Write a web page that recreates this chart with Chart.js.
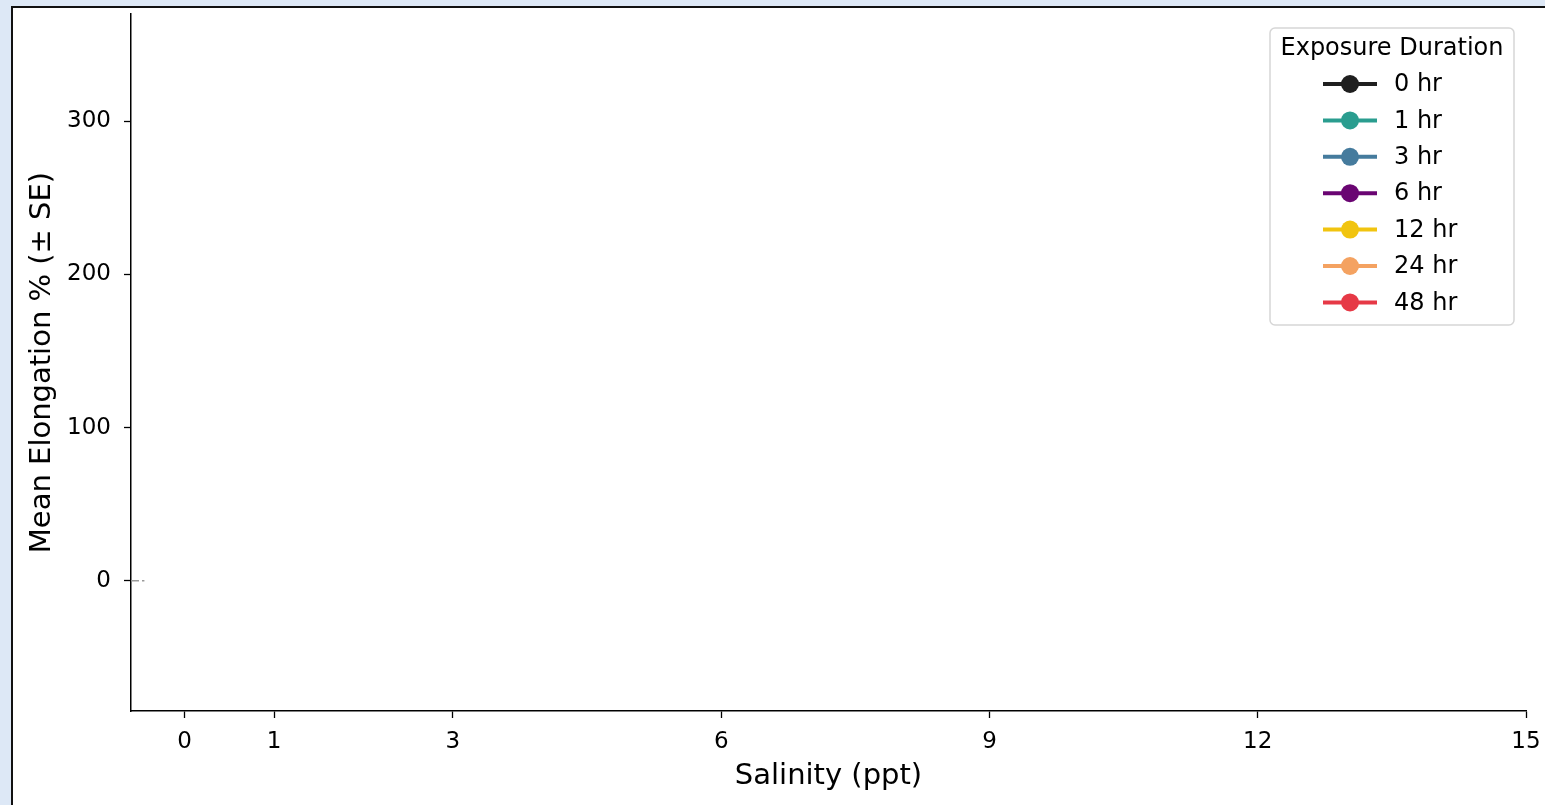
<head>
  <script src="https://cdn.jsdelivr.net/npm/chart.js@4"></script>
  <style>
    body { margin: 0; background: #dde8f6; overflow: hidden; font-family: "DejaVu Sans", sans-serif; }
    .frame { position: absolute; left: 11px; top: 6px; width: 1600px; height: 900px; background: #fff; border: 2px solid #111; }
    canvas { position: absolute; left: 0; top: 0; }
  </style>
</head>
<body>
  <div class="frame"></div>
  <canvas id="elongChart" width="1545" height="805"></canvas>

  <script>
    // Salinity levels (ppt) used as x ticks
    const salinity = [0, 1, 3, 6, 9, 12, 15];
    const yTicks = [0, 100, 200, 300];

    // Exposure durations shown in the legend (no points drawn in the reference)
    const durations = ["0 hr", "1 hr", "3 hr", "6 hr", "12 hr", "24 hr", "48 hr"];
    const durationColors = ["#1f1f1f", "#2a9d8f", "#457b9d", "#6a0572", "#f1c40f", "#f4a261", "#e63946"];
    const meanElongation = [[], [], [], [], [], [], []];

    // short dashed zero reference line
    const zeroLineX = [-0.6, -0.45];
    const zeroLineY = [0, 0];

    const font = "DejaVu Sans";

    // Legend drawn by hand so each entry shows line + marker
    const legendBox = {
      id: "legendBox",
      afterDraw(chart) {
        const { ctx, chartArea } = chart;
        const w = 244, h = 297;
        const x = chartArea.right - 12 - w;
        const y = chartArea.top + 14;
        ctx.save();
        ctx.fillStyle = "rgba(255,255,255,0.8)";
        ctx.strokeStyle = "#d6d6d6";
        ctx.lineWidth = 1.5;
        ctx.beginPath();
        ctx.roundRect(x, y, w, h, 5);
        ctx.fill();
        ctx.stroke();

        ctx.fillStyle = "#000";
        ctx.font = `24px "${font}"`;
        ctx.textAlign = "center";
        ctx.textBaseline = "middle";
        ctx.fillText("Exposure Duration", x + w / 2, y + 21);

        durations.forEach((label, i) => {
          const cy = y + 56 + i * 36.4;
          const color = durationColors[i];
          ctx.strokeStyle = color;
          ctx.lineWidth = 4;
          ctx.beginPath();
          ctx.moveTo(x + 53, cy);
          ctx.lineTo(x + 107, cy);
          ctx.stroke();
          ctx.fillStyle = color;
          ctx.beginPath();
          ctx.arc(x + 80, cy, 9, 0, Math.PI * 2);
          ctx.fill();
          ctx.fillStyle = "#000";
          ctx.textAlign = "left";
          ctx.fillText(label, x + 124, cy + 1);
        });
        ctx.restore();
      }
    };

    const datasets = durations.map((label, i) => ({
      label: label,
      data: meanElongation[i],
      borderColor: durationColors[i],
      backgroundColor: durationColors[i],
      borderWidth: 3,
      pointRadius: 6,
    }));
    datasets.push({
      label: "zero",
      data: zeroLineX.map((x, i) => ({ x: x, y: zeroLineY[i] })),
      borderColor: "#9a9a9a",
      borderWidth: 1.5,
      borderDash: [8, 3],
      pointRadius: 0,
    });

    new Chart(document.getElementById("elongChart"), {
      type: "line",
      data: { datasets },
      plugins: [legendBox],
      options: {
        responsive: false,
        animation: false,
        devicePixelRatio: 1,
        layout: { padding: { top: 14, right: 19, left: 0, bottom: 0 } },
        scales: {
          x: {
            type: "linear",
            min: -0.6,
            max: 15,
            afterBuildTicks: (scale) => { scale.ticks = salinity.map(v => ({ value: v })); },
            afterFit: (scale) => { scale.height = 94; scale.paddingLeft = 0; scale.paddingRight = 0; },
            grid: { drawOnChartArea: false, tickLength: 7, tickColor: "#000", tickWidth: 1.3 },
            border: { color: "#000", width: 1.5 },
            ticks: { color: "#000", font: { family: font, size: 23 }, padding: 10, maxRotation: 0, autoSkip: false },
            title: { display: true, text: "Salinity (ppt)", color: "#000", font: { family: font, size: 29 }, padding: { top: 0, bottom: 11 } },
          },
          y: {
            min: -85,
            max: 370,
            afterBuildTicks: (scale) => { scale.ticks = yTicks.map(v => ({ value: v })); },
            afterFit: (scale) => { scale.width = 131; scale.paddingTop = 0; scale.paddingBottom = 0; },
            grid: { drawOnChartArea: false, tickLength: 7, tickColor: "#000", tickWidth: 1.3 },
            border: { color: "#000", width: 1.5 },
            ticks: { color: "#000", font: { family: font, size: 23 }, padding: 13 },
            title: { display: true, text: "Mean Elongation % (± SE)", color: "#000", font: { family: font, size: 29 }, padding: { top: 25, bottom: 0 } },
          },
        },
        plugins: {
          legend: { display: false },
          tooltip: { enabled: false },
        },
      },
    });
  </script>
</body>
